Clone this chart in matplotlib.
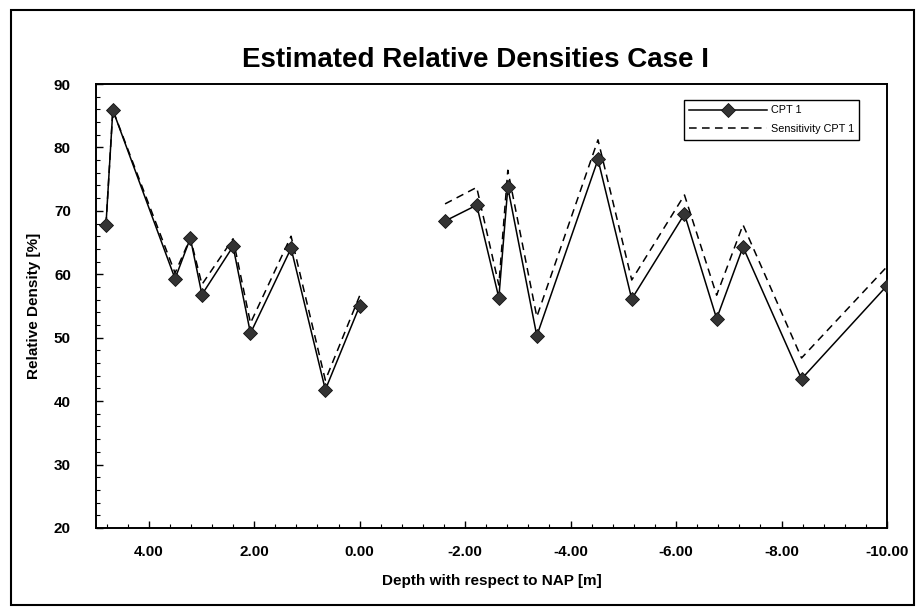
import numpy as np
import matplotlib.pyplot as plt
from matplotlib.patches import Rectangle
from matplotlib.ticker import MultipleLocator, FormatStrFormatter

plt.rcParams['font.family'] = ['Liberation Sans', 'DejaVu Sans']

# depth with respect to NAP [m], two measured stretches
depth_a = [4.81, 4.68, 3.50, 3.21, 2.99, 2.40, 2.07, 1.30, 0.65, 0.00]
depth_b = [-1.62, -2.22, -2.64, -2.81, -3.36, -4.52, -5.16, -6.16, -6.77, -7.27, -8.38, -10.00]

# relative density [%]
cpt1_a = [67.8, 85.9, 59.3, 65.7, 56.8, 64.4, 50.7, 64.1, 41.8, 55.0]
cpt1_b = [68.4, 70.9, 56.3, 73.7, 50.3, 78.1, 56.1, 69.5, 53.0, 64.3, 43.5, 58.2]

sens_a = [67.8, 85.9, 60.2, 65.7, 58.4, 65.6, 52.3, 66.0, 43.3, 56.6]
sens_b = [71.1, 73.7, 58.3, 76.4, 53.3, 81.2, 59.1, 72.5, 56.7, 67.8, 46.8, 61.2]

depth = np.array(depth_a + [np.nan] + depth_b)
cpt1 = np.array(cpt1_a + [np.nan] + cpt1_b)
sens = np.array(sens_a + [np.nan] + sens_b)

fig = plt.figure(figsize=(9.2, 6.15), dpi=100)
ax = fig.add_axes([0.1043, 0.1415, 0.8598, 0.7219])

ax.plot(depth, sens, color='black', lw=1.1, ls=(0, (5, 3.5)), label='Sensitivity CPT 1', zorder=2)
ax.plot(depth, cpt1, color='black', lw=1.1, marker='D', ms=6.8,
        mfc='#333333', mec='#111111', mew=0.6, label='CPT 1', zorder=3)

ax.set_xlim(5, -10)
ax.set_ylim(20, 90)
ax.xaxis.set_major_locator(MultipleLocator(2))
ax.xaxis.set_minor_locator(MultipleLocator(0.4))
ax.yaxis.set_major_locator(MultipleLocator(10))
ax.yaxis.set_minor_locator(MultipleLocator(2))
ax.xaxis.set_major_formatter(FormatStrFormatter('%.2f'))

ax.tick_params(which='both', direction='in', top=False, right=False)
ax.tick_params(which='major', length=5, width=1, labelsize=11, pad=12)
ax.tick_params(which='minor', length=3, width=0.8)
ax.tick_params(axis='y', which='major', pad=18)
for lab in ax.get_xticklabels() + ax.get_yticklabels():
    lab.set_fontweight('bold')

for s in ax.spines.values():
    s.set_linewidth(1.4)

ax.set_xlabel('Depth with respect to NAP [m]', fontsize=11, fontweight='bold', labelpad=11)
ax.set_ylabel('Relative Density [%]', fontsize=11, fontweight='bold', labelpad=9)
fig.text(0.517, 0.902, 'Estimated Relative Densities Case I', ha='center', va='center',
         fontsize=20, fontweight='bold')

h, l = ax.get_legend_handles_labels()
leg = ax.legend(h[::-1], l[::-1], loc='upper right', bbox_to_anchor=(0.972, 0.976),
                fontsize=7.8, handlelength=7.2, numpoints=1, fancybox=False,
                edgecolor='black', framealpha=1, borderpad=0.5, labelspacing=0.8,
                handletextpad=0.3)
leg.get_frame().set_linewidth(1.0)

fig.patches.append(Rectangle((0.012, 0.016), 0.982, 0.968, transform=fig.transFigure,
                             fill=False, edgecolor='black', lw=1.5))

fig.savefig('out.png', dpi=100)
